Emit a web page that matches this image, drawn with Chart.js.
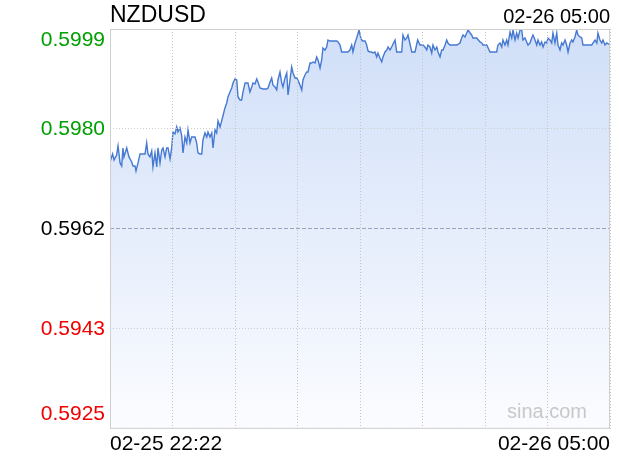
<!DOCTYPE html>
<html><head><meta charset="utf-8">
<script src="https://cdn.jsdelivr.net/npm/chart.js@4/dist/chart.umd.min.js"></script>
<style>html,body{margin:0;padding:0;background:#fff}#wrap{width:620px;height:460px}</style>
</head><body><div id="wrap"><canvas id="c" width="620" height="460"></canvas></div>
<script>
const symbol = 'NZDUSD';
const headerTime = '02-26 05:00';
const watermark = 'sina.com';
// minutes after 02-25 22:22
const times = [0,0.8,2.1,3.2,5.3,6.4,8.0,9.3,10.3,11.1,13.3,15.1,17.3,18.3,19.9,20.7,22.3,23.9,26.3,27.9,29.2,30.2,31.8,33.2,34.2,35.8,37.2,38.2,39.8,41.2,42.2,43.8,45.1,46.2,47.8,49.1,50.1,51.7,53.1,54.1,55.7,57.1,58.1,59.7,61.1,62.1,63.7,65.0,66.1,67.7,69.0,70.0,71.6,73.0,74.0,75.6,77.0,78.0,79.6,81.0,82.0,83.6,84.9,86.0,87.6,88.9,89.9,91.5,92.9,93.9,95.5,96.9,97.9,99.5,100.9,101.9,103.5,104.8,105.9,107.5,108.8,109.8,111.4,112.8,113.8,115.4,116.8,117.8,119.4,121.8,124.7,125.8,127.4,128.7,129.7,131.3,132.7,133.7,135.3,136.7,137.7,139.3,140.7,141.7,143.3,144.6,145.7,147.3,148.6,149.6,151.2,152.6,153.6,155.2,156.6,157.6,159.2,160.5,161.6,163.2,164.5,165.6,167.2,168.5,169.5,171.1,172.5,173.5,175.1,177.5,180.5,181.5,183.1,184.4,187.1,189.4,191.0,192.4,193.4,195.0,196.4,198.2,199.8,201.1,203.0,204.3,205.4,207.0,208.3,209.3,210.9,212.3,213.3,214.9,216.3,217.3,218.9,220.3,221.3,222.9,224.2,225.3,226.9,228.2,229.2,232.2,233.2,234.8,236.2,237.2,240.2,242.8,244.9,246.8,249.1,250.7,252.1,253.1,254.7,256.1,257.1,258.7,260.1,261.1,262.7,264.0,265.1,266.7,268.0,269.0,270.6,273.0,276.0,278.6,279.9,281.0,282.6,283.9,285.0,286.6,287.9,288.9,290.5,291.9,294.5,295.9,296.9,299.9,302.5,304.9,307.8,308.8,310.4,311.8,312.8,314.4,315.8,316.8,318.4,319.8,320.8,322.4,323.7,324.8,326.4,327.7,328.7,330.3,331.7,332.7,334.3,335.7,336.7,338.3,339.7,340.7,342.3,343.6,344.7,346.3,347.6,348.6,350.2,351.6,352.6,354.2,355.6,356.6,358.2,359.5,360.6,362.2,363.5,364.6,366.2,367.5,368.5,370.1,371.5,372.5,374.1,375.5,376.5,379.5,382.1,383.5,384.5,386.1,387.5,388.4,390.0,391.4,392.4,394.0,395.4,398];
const prices = [0.597573,0.597499,0.597592,0.597481,0.597573,0.597740,0.597425,0.597369,0.597703,0.597536,0.597703,0.597536,0.597443,0.597369,0.597369,0.597276,0.597425,0.597592,0.597592,0.597592,0.597796,0.597592,0.597536,0.597648,0.597351,0.597611,0.597351,0.597703,0.597425,0.597666,0.597703,0.597536,0.597703,0.597703,0.597499,0.597703,0.598000,0.597963,0.598093,0.598000,0.598075,0.597926,0.597611,0.597907,0.597796,0.598037,0.597796,0.597907,0.597907,0.597907,0.597796,0.597611,0.597592,0.597592,0.597852,0.597982,0.597907,0.598000,0.597907,0.597982,0.597703,0.598037,0.597982,0.598205,0.598093,0.598205,0.598297,0.598446,0.598539,0.598650,0.598743,0.598817,0.598910,0.598984,0.598965,0.598650,0.598594,0.598594,0.598743,0.598910,0.598910,0.598910,0.598743,0.598836,0.598910,0.598891,0.598984,0.598928,0.598817,0.598798,0.598798,0.598817,0.598928,0.599003,0.598873,0.598836,0.598780,0.598965,0.599114,0.598910,0.598836,0.599003,0.599095,0.598687,0.598965,0.599207,0.599095,0.599003,0.599003,0.598965,0.598873,0.598780,0.598965,0.599058,0.599114,0.599114,0.599281,0.599281,0.599300,0.599281,0.599392,0.599337,0.599188,0.599337,0.599559,0.599522,0.599578,0.599708,0.599689,0.599689,0.599689,0.599671,0.599615,0.599485,0.599485,0.599485,0.599522,0.599615,0.599485,0.599652,0.599745,0.599893,0.599726,0.599689,0.599689,0.599615,0.599504,0.599485,0.599485,0.599467,0.599485,0.599392,0.599467,0.599374,0.599300,0.599392,0.599485,0.599522,0.599578,0.599522,0.599578,0.599634,0.599708,0.599485,0.599485,0.599485,0.599801,0.599708,0.599745,0.599801,0.599485,0.599485,0.599708,0.599615,0.599615,0.599578,0.599522,0.599615,0.599578,0.599467,0.599615,0.599522,0.599578,0.599485,0.599392,0.599522,0.599522,0.599615,0.599708,0.599652,0.599615,0.599615,0.599615,0.599652,0.599745,0.599801,0.599764,0.599838,0.599893,0.599838,0.599801,0.599745,0.599745,0.599745,0.599671,0.599652,0.599615,0.599615,0.599485,0.599485,0.599485,0.599615,0.599652,0.599578,0.599708,0.599615,0.599708,0.599615,0.599856,0.599745,0.599893,0.599708,0.599838,0.599745,0.599893,0.599905,0.599708,0.599745,0.599671,0.599615,0.599652,0.599745,0.599801,0.599708,0.599615,0.599708,0.599615,0.599671,0.599578,0.599671,0.599652,0.599745,0.599708,0.599652,0.599838,0.599652,0.599838,0.599615,0.599522,0.599652,0.599615,0.599708,0.599615,0.599485,0.599652,0.599708,0.599671,0.599764,0.599893,0.599801,0.599764,0.599745,0.599615,0.599615,0.599615,0.599615,0.599652,0.599708,0.599652,0.599838,0.599708,0.599652,0.599708,0.599615,0.599652,0.599615];
const prevClose = 0.5962;
const yTickValues = [0.592488, 0.594344, 0.5962, 0.598056, 0.599912];
const yTickLabels = ['0.5925', '0.5943', '0.5962', '0.5980', '0.5999'];
const xTickValues = [0, 49.75, 99.5, 149.25, 199, 248.75, 298.5, 348.25, 398];
const xTickLabels = ['02-25 22:22', '', '', '', '', '', '', '', '02-26 05:00'];

const FONT = "'Liberation Sans', Arial, Helvetica, sans-serif";

const overlay = {
  id: 'overlay',
  afterDraw(chart) {
    const ctx = chart.ctx, a = chart.chartArea, y = chart.scales.y;
    ctx.save();
    // frame
    ctx.strokeStyle = '#cfcfcf';
    ctx.lineWidth = 1;
    ctx.setLineDash([]);
    ctx.strokeRect(a.left + 0.5, a.top + 0.5, a.right - a.left - 1, a.bottom - a.top - 1);
    // y labels
    ctx.font = '21px ' + FONT;
    ctx.textAlign = 'right';
    ctx.textBaseline = 'middle';
    const n = yTickValues.length;
    yTickValues.forEach((v, i) => {
      let py = y.getPixelForValue(v);
      if (i === n - 1) py += 11;
      if (i === 0) py -= 15;
      const lab = yTickLabels[i];
      const num = parseFloat(lab);
      ctx.fillStyle = num > prevClose ? '#00a000' : (num < prevClose ? '#f00000' : '#000000');
      ctx.fillText(lab, a.left - 5, py);
    });
    // header
    ctx.fillStyle = '#000';
    ctx.textAlign = 'left';
    ctx.font = '23px ' + FONT;
    ctx.fillText(symbol, a.left, 16);
    ctx.textAlign = 'right';
    ctx.font = '20px ' + FONT;
    ctx.fillText(headerTime, a.right, 17);
    // watermark
    ctx.fillStyle = '#c8c8c8';
    ctx.font = '20px ' + FONT;
    ctx.fillText(watermark, a.right - 23, a.bottom - 16);
    ctx.restore();
  }
};

new Chart(document.getElementById('c'), {
  type: 'line',
  data: {
    datasets: [{
      data: times.map((t, i) => ({x: t, y: prices[i]})),
      borderColor: '#4679d2',
      borderWidth: 1.4,
      pointRadius: 0,
      tension: 0,
      fill: 'start',
      backgroundColor(c) {
        const a = c.chart.chartArea;
        if (!a) return 'rgba(210,224,248,0.8)';
        const g = c.chart.ctx.createLinearGradient(0, a.top, 0, a.bottom);
        g.addColorStop(0, '#d0dff8');
        g.addColorStop(1, '#fbfcff');
        return g;
      }
    }]
  },
  options: {
    responsive: false,
    animation: false,
    devicePixelRatio: 1,
    layout: {padding: {left: 110, right: 10, top: 29, bottom: 0}},
    plugins: {legend: {display: false}, tooltip: {enabled: false}, title: {display: false}},
    scales: {
      x: {
        type: 'linear', min: 0, max: 398,
        afterBuildTicks(s) { s.ticks = xTickValues.map(v => ({value: v})); },
        ticks: {
          autoSkip: false, maxRotation: 0, minRotation: 0, align: 'inner', padding: 3,
          color: '#000', font: {size: 21, family: FONT},
          callback: (v, i) => xTickLabels[i]
        },
        grid: {color: '#c4c4c4', drawTicks: false, lineWidth: 1, z: 1},
        border: {display: false, dash: [1, 2]}
      },
      y: {
        min: yTickValues[0], max: yTickValues[yTickValues.length - 1],
        afterBuildTicks(s) { s.ticks = yTickValues.map(v => ({value: v})); },
        afterFit(s) { s.width = 0; },
        ticks: {display: false},
        grid: {
          drawTicks: false, lineWidth: 1, z: 1,
          color: c => (c.tick && c.tick.value === prevClose) ? '#a0a0bc' : '#cfcfcf'
        },
        border: {
          display: false,
          dash: c => (c.tick && c.tick.value === prevClose) ? [4, 2] : [1, 2]
        }
      }
    }
  },
  plugins: [overlay]
});
</script>
</body></html>
